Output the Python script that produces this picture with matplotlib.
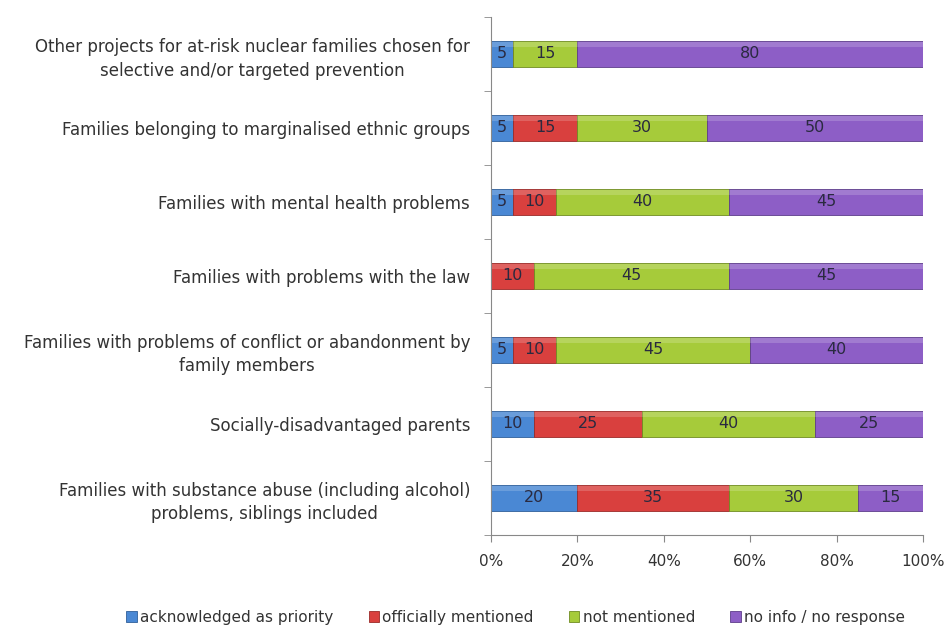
import matplotlib
matplotlib.use("Agg")
import matplotlib.pyplot as plt
import numpy as np

categories = [
    "Families with substance abuse (including alcohol)\nproblems, siblings included",
    "Socially-disadvantaged parents",
    "Families with problems of conflict or abandonment by\nfamily members",
    "Families with problems with the law",
    "Families with mental health problems",
    "Families belonging to marginalised ethnic groups",
    "Other projects for at-risk nuclear families chosen for\nselective and/or targeted prevention",
]
acknowledged = [20, 10, 5, 0, 5, 5, 5]
officially = [35, 25, 10, 10, 10, 15, 0]
not_mentioned = [30, 40, 45, 45, 40, 30, 15]
no_info = [15, 25, 40, 45, 45, 50, 80]

series_names = ["acknowledged as priority", "officially mentioned",
                "not mentioned", "no info / no response"]
series_values = [acknowledged, officially, not_mentioned, no_info]
colors = ["#4a88d4", "#d9403e", "#a6cb3a", "#8d5ec6"]
edges = ["#2f5f9a", "#9a2a28", "#6f8c22", "#5e3d8a"]

text_color = "#333333"
plt.rcParams["font.family"] = ["DejaVu Sans"]

fig = plt.figure(figsize=(9.46, 6.27), dpi=100)
ax = fig.add_axes([0.519, 0.147, 0.457, 0.826])

y = np.arange(len(categories))
left = np.zeros(len(categories))
bar_h = 0.35
for name, vals, c, ec in zip(series_names, series_values, colors, edges):
    vals = np.array(vals, dtype=float)
    ax.barh(y, vals, left=left, height=bar_h, color=c, edgecolor=ec,
            linewidth=0.6, label=name)
    # lighter highlight along the top of each segment
    ax.barh(y + bar_h * 0.36, vals, left=left, height=bar_h * 0.22,
            color="white", alpha=0.18, linewidth=0)
    for yi, l, v in zip(y, left, vals):
        if v > 0:
            ax.text(l + v / 2, yi, f"{int(v)}", ha="center", va="center",
                    fontsize=11.5, color="#2a2a40")
    left += vals

ax.set_xlim(0, 100)
ax.set_ylim(-0.5, len(categories) - 0.5)
ax.set_xticks(np.arange(0, 101, 20))
ax.set_xticklabels([f"{v}%" for v in range(0, 101, 20)], fontsize=11,
                   color=text_color)
ax.set_yticks(y)
ax.set_yticklabels(categories, fontsize=12, color=text_color,
                   multialignment="center", linespacing=1.4)
ax.tick_params(axis="y", length=0, pad=15)
ax.set_yticks(np.arange(-0.5, len(categories), 1), minor=True)
ax.tick_params(axis="y", which="minor", length=5, color="#888888")
ax.tick_params(axis="x", length=5, color="#888888", pad=9)
for s in ["top", "right"]:
    ax.spines[s].set_visible(False)
for s in ["left", "bottom"]:
    ax.spines[s].set_color("#888888")

handles, labels = ax.get_legend_handles_labels()
fig.legend(handles, labels, loc="lower center", bbox_to_anchor=(0.545, -0.018),
           ncol=4, frameon=False, fontsize=11, handlelength=0.7,
           handleheight=0.7, handletextpad=0.2, columnspacing=2.3,
           labelcolor=text_color)

fig.savefig("out.png", dpi=100)
